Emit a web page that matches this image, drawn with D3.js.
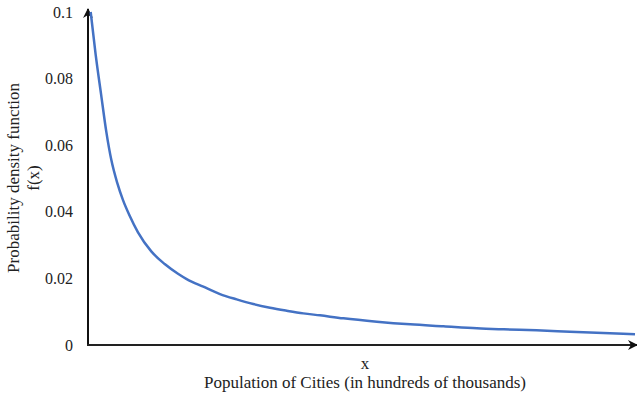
<!DOCTYPE html>
<html>
<head>
<meta charset="utf-8">
<script src="https://cdn.jsdelivr.net/npm/d3@7"></script>
<style>
  html, body { margin: 0; padding: 0; background: #fff; }
  svg { display: block; }
  text { font-family: "Liberation Serif", "DejaVu Serif", serif; fill: #222; }
</style>
</head>
<body>
<script>
// Population (hundreds of thousands) and probability density
const xValues = [0.49, 1.4, 2.4, 3.35, 4.26, 5.36, 6.4, 7.62, 9.14, 11.57, 14.02, 16.45, 18.04, 21.08, 24.13, 27.18, 30.22, 33.27, 36.33, 39.36, 42.41, 46.7, 52.8, 58.9, 65.0, 71.1, 76.0, 82.0, 88.1, 94.2, 100];
const density = [0.1, 0.0872, 0.0752, 0.064, 0.0556, 0.0486, 0.0435, 0.0388, 0.0338, 0.0281, 0.0243, 0.0214, 0.0198, 0.0175, 0.0153, 0.0137, 0.0123, 0.0112, 0.0103, 0.0095, 0.0089, 0.008, 0.007, 0.0062, 0.0056, 0.005, 0.0047, 0.0044, 0.004, 0.0036, 0.0032];
const yTicks = [0, 0.02, 0.04, 0.06, 0.08, 0.1];
const yTickLabels = ["0", "0.02", "0.04", "0.06", "0.08", "0.1"];

const W = 637, H = 397;
const svg = d3.select("body").append("svg").attr("width", W).attr("height", H);

const x = d3.scaleLinear().domain([0, 100]).range([88, 635]);
const y = d3.scaleLinear().domain([0, 0.1]).range([345, 12]);

// arrowhead marker for the axes
svg.append("defs").append("marker")
  .attr("id", "arrow").attr("viewBox", "0 0 10 10")
  .attr("refX", 9).attr("refY", 5)
  .attr("markerWidth", 5).attr("markerHeight", 5)
  .attr("markerUnits", "strokeWidth")
  .attr("orient", "auto")
  .append("path").attr("d", "M0,0 L10,5 L0,10 L3,5 Z").attr("fill", "#111");

// y axis with tick labels only
const yAxis = d3.axisLeft(y).tickValues(yTicks)
  .tickFormat((d, i) => yTickLabels[i]).tickSize(0).tickPadding(15);
const gy = svg.append("g").attr("transform", `translate(${x(0)},0)`).call(yAxis);
gy.select(".domain").remove();
gy.selectAll("text").style("font-size", "16px")
  .style("font-family", "Liberation Serif, serif").attr("fill", "#222");

svg.append("line")
  .attr("x1", x(0)).attr("y1", y(0) + 1)
  .attr("x2", x(0)).attr("y2", y(0.1) - 3)
  .attr("stroke", "#111").attr("stroke-width", 2)
  .attr("marker-end", "url(#arrow)");

svg.append("line")
  .attr("x1", x(0) - 1).attr("y1", y(0))
  .attr("x2", 637).attr("y2", y(0))
  .attr("stroke", "#222").attr("stroke-width", 2)
  .attr("marker-end", "url(#arrow)");

// density curve
const line = d3.line()
  .x((d, i) => x(xValues[i]))
  .y(d => y(d))
  .curve(d3.curveMonotoneX);

svg.append("path")
  .datum(density)
  .attr("d", line)
  .attr("fill", "none")
  .attr("stroke", "#4472C4")
  .attr("stroke-width", 2.5);

// axis titles
svg.append("text")
  .attr("transform", "translate(19,178) rotate(-90)")
  .attr("text-anchor", "middle")
  .style("font-size", "17px")
  .text("Probability density function");
svg.append("text")
  .attr("transform", "translate(39,178) rotate(-90)")
  .attr("text-anchor", "middle")
  .style("font-size", "17px")
  .text("f(x)");

svg.append("text")
  .attr("x", 365).attr("y", 369)
  .attr("text-anchor", "middle")
  .style("font-size", "17px")
  .text("x");
svg.append("text")
  .attr("x", 365).attr("y", 388)
  .attr("text-anchor", "middle")
  .style("font-size", "17px")
  .text("Population of Cities (in hundreds of thousands)");
</script>
</body>
</html>
